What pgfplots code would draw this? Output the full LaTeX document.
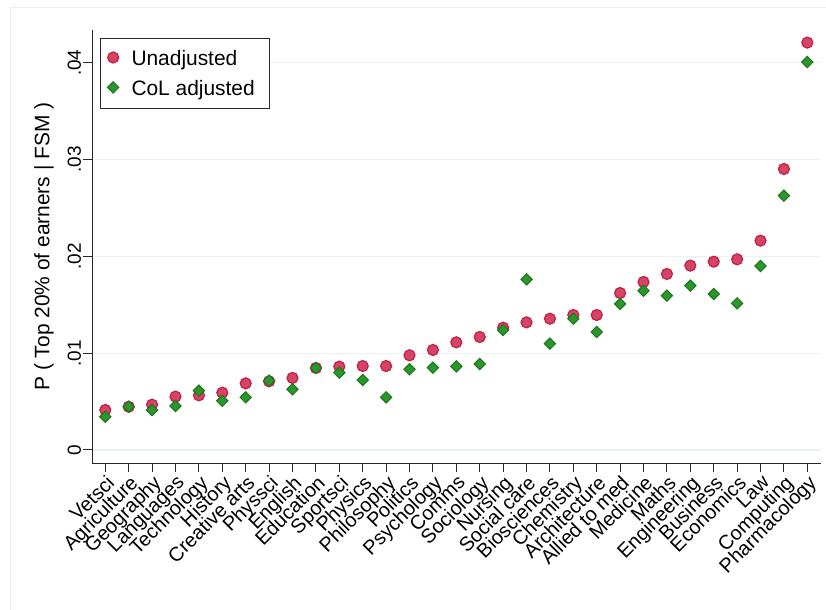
\documentclass[border=0pt]{standalone}
\usepackage{pgfplots}
\pgfplotsset{compat=1.18}
\usepackage{fontspec}
\setmainfont{Liberation Sans}
\definecolor{unadj}{RGB}{212,68,100}
\definecolor{unadjedge}{RGB}{196,30,72}
\definecolor{coladj}{RGB}{44,150,44}
\definecolor{coladjedge}{RGB}{26,118,26}
\definecolor{gridc}{RGB}{234,242,243}
\definecolor{axc}{RGB}{40,40,40}
\definecolor{borderc}{RGB}{234,239,241}

\pgfplotstableread{
x unadj coladj
1  0.00413 0.00344
2  0.00447 0.00447
3  0.00468 0.00413
4  0.00551 0.00454
5  0.00565 0.00613
6  0.00592 0.00509
7  0.00688 0.00544
8  0.00709 0.00716
9  0.00744 0.00627
10 0.00847 0.00847
11 0.00861 0.00799
12 0.00867 0.00723
13 0.00867 0.00544
14 0.00978 0.00833
15 0.01033 0.00850
16 0.01112 0.00864
17 0.01167 0.00888
18 0.01263 0.01239
19 0.01318 0.01762
20 0.01356 0.01098
21 0.01394 0.01356
22 0.01394 0.01219
23 0.01621 0.01508
24 0.01735 0.01645
25 0.01818 0.01594
26 0.01904 0.01697
27 0.01945 0.01611
28 0.01969 0.01515
29 0.02162 0.01900
30 0.02902 0.02627
31 0.04207 0.04007
}\datatable

\begin{document}
\begin{tikzpicture}
\useasboundingbox (0,0) rectangle (826bp,610bp);
\fill[white] (0,0) rectangle (826bp,610bp);
\draw[borderc, line width=0.8bp] (10bp,0bp) -- (10bp,603bp) -- (826bp,603bp);
\begin{axis}[
  at={(92.3bp,146.7bp)}, anchor=south west,
  scale only axis, width=728.4bp, height=433.3bp,
  xmin=0.4447, xmax=31.572, ymin=-0.001374, ymax=0.043374,
  axis x line*=bottom, axis y line*=left,
  axis line style={axc, line width=1.3bp, -},
  tick style={axc, line width=1bp},
  tick align=outside, major tick length=9bp,
  xtick={1,...,31},
  xticklabels={Vetsci,Agriculture,Geography,Languages,Technology,History,Creative arts,Physsci,English,Education,Sportsci,Physics,Philosophy,Politics,Psychology,Comms,Sociology,Nursing,Social care,Biosciences,Chemistry,Architecture,Allied to med,Medicine,Maths,Engineering,Business,Economics,Law,Computing,Pharmacology},
  xticklabel style={font=\fontsize{20}{22}\selectfont, rotate=45, anchor=north east, inner sep=1bp},
  ytick={0,0.01,0.02,0.03,0.04},
  yticklabels={0,{.01},{.02},{.03},{.04}},
  scaled y ticks=false,
  yticklabel style={font=\fontsize{19}{21}\selectfont, rotate=90, anchor=south, inner sep=2bp},
  ymajorgrids, grid style={gridc, line width=1.2bp},
  ylabel={P ( Top 20\% of earners | FSM )},
  every axis y label/.style={at={(axis description cs:-0.0663,0.5)}, rotate=90, anchor=center, font=\fontsize{21}{24}\selectfont},
  legend style={at={(axis description cs:0,1)}, anchor=north west, xshift=7.7bp, yshift=-7.7bp,
    draw=axc, line width=1bp, font=\fontsize{21}{24}\selectfont,
    inner xsep=14.3bp, inner ysep=12.3bp, row sep=14.4bp, column sep=0bp,
    nodes={inner sep=0pt, text height=15bp, text depth=0bp}},
  legend cell align=left,
  legend image code/.code={\path[draw=none, fill=none] (0bp,-8bp) rectangle (16.7bp,4bp); \draw[#1, only marks, overlay] plot coordinates {(-1.6bp,0.5bp)};},
]
\addplot[only marks, mark=*, mark size=5.5bp, mark options={fill=unadj, draw=unadjedge, line width=1.2bp}] table[x=x, y=unadj] {\datatable};
\addlegendentry{Unadjusted}
\addplot[only marks, mark=square*, mark size=4bp, mark options={rotate=45, fill=coladj, draw=coladjedge, line width=1bp}] table[x=x, y=coladj] {\datatable};
\addlegendentry{CoL adjusted}
\end{axis}
\end{tikzpicture}
\end{document}
